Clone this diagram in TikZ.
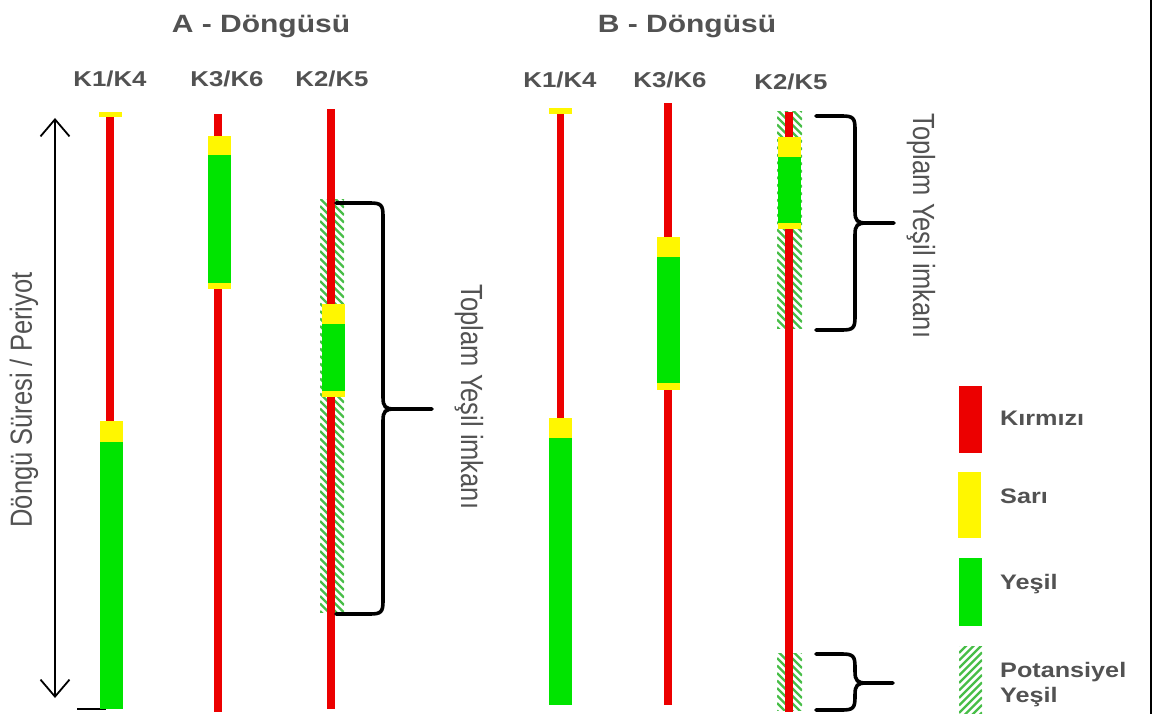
\documentclass[tikz,border=0pt]{standalone}
\usepackage{fontspec}
\usepackage{graphicx}
\setmainfont{Liberation Sans}
\usetikzlibrary{arrows.meta}

\definecolor{sigred}{RGB}{236,0,0}
\definecolor{sigyellow}{RGB}{255,247,0}
\definecolor{siggreen}{RGB}{0,228,0}
\definecolor{hatchgreen}{RGB}{72,190,72}
\definecolor{txtgray}{RGB}{82,82,82}

\tikzset{
  titletext/.style={font=\bfseries\fontsize{25}{30}\selectfont, text=txtgray, anchor=base, inner sep=0pt},
  headtext/.style={font=\bfseries\fontsize{21.5}{26}\selectfont, text=txtgray, anchor=base, inner sep=0pt},
  legtext/.style={font=\bfseries\fontsize{21}{25}\selectfont, text=txtgray, anchor=base west, inner sep=0pt, align=left},
  sidetext/.style={font=\fontsize{25.5}{30}\selectfont, text=txtgray, inner sep=0pt},
  hatchline/.style={draw=hatchgreen, line width=2.4pt},
  bracestyle/.style={draw=black, line width=3.6pt, line join=round, line cap=round},
}

% stretched text (wider glyphs)
\newcommand\wide[1]{\scalebox{1.2}[1]{#1}}
\newcommand\tall[1]{\scalebox{1}[1.2]{#1}}

% red signal bar: x, ytop, ybottom
\newcommand\redbar[3]{\fill[sigred] ({#1-3.6},#2) rectangle ({#1+3.6},#3);}
% coloured block: colour, x, ytop, ybottom
\newcommand\sigblock[4]{\fill[#1] ({#2-11.5},#3) rectangle ({#2+11.5},#4);}
% hatched area: x1, y1, x2, y2, direction (1 = "\", -1 = "/")
\newcommand\hatchrect[5]{%
  \begin{scope}
    \clip (#1,#2) rectangle (#3,#4);
    \pgfmathtruncatemacro\hatchn{(#4-#2+2*(#3-#1))/7.5+1}
    \foreach \i in {0,...,\hatchn}{
      \draw[hatchline] ({#1},{#2-(#3-#1)+7.5*\i}) -- ++({#3-#1},{#5*(#3-#1)});
    }
  \end{scope}}
% curly brace: name, xstart, ytop, ybottom, xvertical, ymiddle, xtip
\newcommand\curly[7]{%
  \coordinate (#1-top) at (#2,#3);
  \coordinate (#1-bot) at (#2,#4);
  \coordinate (#1-cusp) at ({#5+12},#6);
  \coordinate (#1-tip) at (#7,#6);
  \draw[bracestyle] (#1-top) -- ({#5-13},#3) .. controls ({#5-2},#3) and (#5,{#3+2}) .. (#5,{#3+13})
     -- (#5,{#6-12}) .. controls (#5,{#6-2}) and ({#5+2},#6) .. (#1-cusp) -- (#1-tip);
  \draw[bracestyle] (#1-cusp) .. controls ({#5+2},#6) and (#5,{#6+2}) .. (#5,{#6+12})
     -- (#5,{#4-13}) .. controls (#5,{#4-2}) and ({#5-2},#4) .. ({#5-13},#4) -- (#1-bot);
}

\begin{document}
\begin{tikzpicture}[x=1pt,y=-1pt]
\useasboundingbox (0,0) rectangle (1153,714);
\fill[white] (0,0) rectangle (1153,714);

% frame line on the right and base tick
\draw[line width=2pt] (1151,0) -- (1151,714);
\coordinate (baseL) at (77,709);
\coordinate (baseR) at (106,709);
\draw[line width=2pt] (baseL) -- (baseR);

% titles
\node[titletext] (titleA) at (261,33) {\wide{A - Döngüsü}};
\node[titletext] (titleB) at (687,33) {\wide{B - Döngüsü}};

% column heads
\node[headtext] (a1) at (110,87) {\wide{K1/K4}};
\node[headtext] (a3) at (227,87) {\wide{K3/K6}};
\node[headtext] (a2) at (332,87) {\wide{K2/K5}};
\node[headtext] (b1) at (560,88) {\wide{K1/K4}};
\node[headtext] (b3) at (670,88) {\wide{K3/K6}};
\node[headtext] (b2) at (791,90) {\wide{K2/K5}};

% cycle length arrow
\coordinate (cycTop) at (55,118);
\coordinate (cycBot) at (55,698);
\draw[line width=1.8pt, {Straight Barb[length=17pt,width=29pt,line width=1.8pt]}-{Straight Barb[length=17pt,width=29pt,line width=1.8pt]}]
  (cycTop) -- (cycBot);
\node[sidetext, rotate=90] (cyc) at (24,400) {\tall{Döngü Süresi / Periyot}};

% ---- A cycle ----
% K1/K4
\sigblock{sigyellow}{110}{112}{117}
\redbar{110}{117}{421}
\sigblock{sigyellow}{111.5}{421}{442}
\sigblock{siggreen}{111.5}{442}{709}
% K3/K6
\redbar{218}{114}{136}
\sigblock{sigyellow}{219}{136}{155}
\sigblock{siggreen}{219}{155}{283}
\sigblock{sigyellow}{219}{283}{289}
\redbar{218}{289}{712}
% K2/K5
\hatchrect{320}{200}{344}{612}{1}
\redbar{331}{109}{709}
\sigblock{sigyellow}{333}{304}{324}
\sigblock{siggreen}{333}{324}{391}
\sigblock{sigyellow}{333}{391}{397}

\curly{braceA}{336}{203}{614}{383}{409}{432}
\node[sidetext, rotate=-90] (totA) at (469,397) {\tall{Toplam Yeşil imkanı}};

% ---- B cycle ----
% K1/K4
\sigblock{sigyellow}{560.5}{108}{114}
\redbar{560.5}{114}{418}
\sigblock{sigyellow}{560.5}{418}{438}
\sigblock{siggreen}{560.5}{438}{705}
% K3/K6
\redbar{668}{103}{237}
\sigblock{sigyellow}{668}{237}{257}
\sigblock{siggreen}{668}{257}{383}
\sigblock{sigyellow}{668}{383}{390}
\redbar{668}{390}{705}
% K2/K5
\hatchrect{777}{112}{802}{328}{1}
\hatchrect{777}{653}{802}{710}{1}
\redbar{789}{112}{712}
\sigblock{sigyellow}{789}{137}{157}
\sigblock{siggreen}{789}{157}{223}
\sigblock{sigyellow}{789}{223}{229}

\curly{braceB}{816}{116}{330}{855}{223}{894}
\curly{braceC}{816}{654}{710}{855}{683}{893}
\node[sidetext, rotate=-90] (totB) at (921,226) {\tall{Toplam Yeşil imkanı}};

% ---- legend ----
\fill[sigred] (959,386) rectangle (982,453);
\fill[sigyellow] (958,472) rectangle (981,538);
\fill[siggreen] (959,558) rectangle (982,626);
\hatchrect{959}{646}{982}{714}{-1}
\node[legtext] (lr) at (1000,425) {\wide{Kırmızı}};
\node[legtext] (ly) at (1000,503) {\wide{Sarı}};
\node[legtext] (lg) at (1000,589) {\wide{Yeşil}};
\node[legtext] (lp) at (1000,677) {\wide{Potansiyel}};
\node[legtext] (lp2) at (1000,702) {\wide{Yeşil}};
\end{tikzpicture}
\end{document}
